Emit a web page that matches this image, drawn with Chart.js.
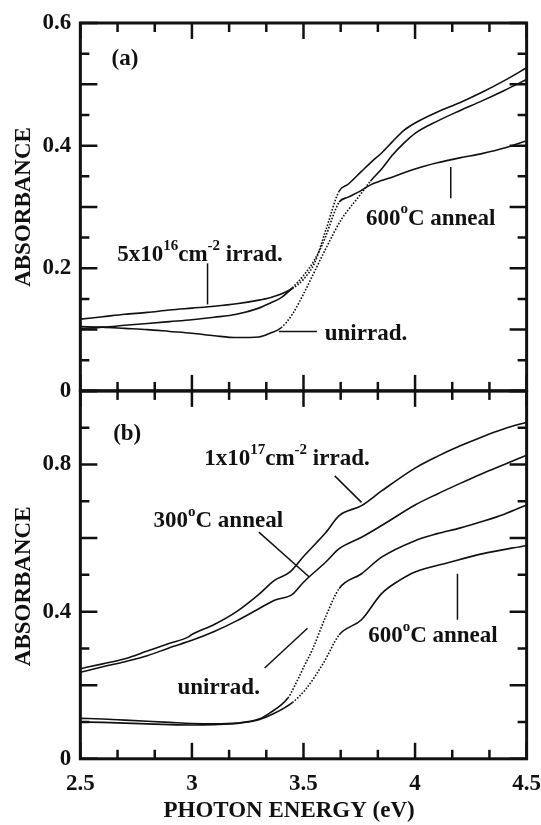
<!DOCTYPE html>
<html>
<head>
<meta charset="utf-8">
<script src="https://cdn.jsdelivr.net/npm/chart.js@4.4.1/dist/chart.umd.min.js"></script>
<style>
  html, body { margin: 0; padding: 0; background: #fff; }
  #absChart { display: block; }
</style>
</head>
<body>
<canvas id="absChart" width="541" height="825"></canvas>
<script>
// ---- panel (a) ----
const energyIrradA = [2.5, 2.6, 2.7, 2.8, 2.9, 3.0, 3.1, 3.2, 3.3, 3.35, 3.4, 3.45, 3.5, 3.55, 3.6, 3.66, 3.7, 3.76, 3.8, 3.85, 3.9, 3.95, 4.0, 4.1, 4.2, 4.3, 4.4, 4.5];
const absIrradA = [0.117, 0.121, 0.125, 0.128, 0.132, 0.135, 0.138, 0.142, 0.148, 0.152, 0.158, 0.167, 0.182, 0.209, 0.262, 0.326, 0.337, 0.358, 0.372, 0.388, 0.407, 0.425, 0.437, 0.455, 0.47, 0.487, 0.506, 0.527];

const energyUnirradA = [2.5, 2.6, 2.7, 2.8, 2.9, 3.0, 3.1, 3.2, 3.3, 3.35, 3.4, 3.45, 3.5, 3.55, 3.6, 3.67, 3.7, 3.75, 3.8, 3.85, 3.9, 3.95, 4.0, 4.1, 4.2, 4.3, 4.4, 4.5];
const absUnirradA = [0.105, 0.104, 0.102, 0.1, 0.097, 0.094, 0.09, 0.087, 0.088, 0.094, 0.103, 0.125, 0.158, 0.195, 0.232, 0.28, 0.295, 0.318, 0.342, 0.362, 0.385, 0.404, 0.42, 0.44, 0.457, 0.473, 0.49, 0.508];

const energyAnnealA = [2.5, 2.6, 2.7, 2.8, 2.9, 3.0, 3.1, 3.2, 3.3, 3.35, 3.4, 3.45, 3.5, 3.55, 3.6, 3.63, 3.66, 3.7, 3.75, 3.8, 3.85, 3.9, 4.0, 4.1, 4.2, 4.3, 4.4, 4.5];
const absAnnealA = [0.102, 0.104, 0.107, 0.11, 0.113, 0.116, 0.12, 0.125, 0.135, 0.143, 0.152, 0.168, 0.188, 0.214, 0.252, 0.283, 0.308, 0.316, 0.325, 0.336, 0.343, 0.349, 0.362, 0.372, 0.38, 0.387, 0.396, 0.408];

// ---- panel (b) ----
const energyIrradB = [2.5, 2.6, 2.7, 2.8, 2.9, 2.98, 3.0, 3.1, 3.2, 3.3, 3.37, 3.44, 3.5, 3.6, 3.66, 3.76, 3.85, 4.0, 4.1, 4.2, 4.3, 4.4, 4.5];
const absIrradB = [0.245, 0.258, 0.272, 0.293, 0.314, 0.33, 0.338, 0.365, 0.4, 0.447, 0.485, 0.508, 0.55, 0.615, 0.661, 0.688, 0.728, 0.79, 0.822, 0.85, 0.875, 0.897, 0.915];

const energyAnneal300B = [2.5, 2.6, 2.7, 2.8, 2.9, 3.0, 3.1, 3.2, 3.3, 3.37, 3.45, 3.5, 3.6, 3.66, 3.76, 3.85, 4.0, 4.1, 4.2, 4.3, 4.4, 4.5];
const absAnneal300B = [0.235, 0.25, 0.264, 0.28, 0.302, 0.322, 0.346, 0.375, 0.408, 0.431, 0.447, 0.48, 0.535, 0.571, 0.602, 0.634, 0.69, 0.72, 0.748, 0.775, 0.8, 0.825];

const energyUnirradB = [2.5, 2.6, 2.7, 2.8, 2.9, 3.0, 3.1, 3.2, 3.3, 3.35, 3.43, 3.47, 3.5, 3.54, 3.6, 3.66, 3.76, 3.85, 4.0, 4.1, 4.2, 4.3, 4.4, 4.5];
const absUnirradB = [0.11, 0.108, 0.105, 0.102, 0.099, 0.096, 0.095, 0.097, 0.108, 0.125, 0.165, 0.21, 0.248, 0.297, 0.387, 0.463, 0.503, 0.548, 0.593, 0.612, 0.627, 0.645, 0.665, 0.69];

const energyAnneal600B = [2.5, 2.6, 2.7, 2.8, 2.9, 3.0, 3.1, 3.2, 3.3, 3.36, 3.45, 3.51, 3.59, 3.66, 3.76, 3.85, 3.93, 4.0, 4.16, 4.3, 4.5];
const absAnneal600B = [0.1, 0.099, 0.097, 0.095, 0.093, 0.092, 0.093, 0.096, 0.106, 0.121, 0.153, 0.189, 0.261, 0.337, 0.378, 0.449, 0.485, 0.508, 0.535, 0.557, 0.58];

// axis labels
const xTitle = 'PHOTON ENERGY (eV)';
const yTitle = 'ABSORBANCE';

// text notes on the plot, placed in data units (energy, absorbance)
const notesA = [
  { parts: [['(a)']], e: 2.70, v: 0.541 },
  { parts: [['5x10'], ['16', true], ['cm'], ['-2', true], [' irrad.']], e: 3.036, v: 0.221 },
  { parts: [['unirrad.']], e: 3.78, v: 0.092 },
  { parts: [['600'], ['o', true], ['C anneal']], e: 4.07, v: 0.281 }
];
const leadersA = [
  [3.07, 0.208, 3.07, 0.141],
  [3.39, 0.097, 3.56, 0.097],
  [4.16, 0.365, 4.16, 0.314]
];
const notesB = [
  { parts: [['(b)']], e: 2.71, v: 0.883 },
  { parts: [['1x10'], ['17', true], ['cm'], ['-2', true], [' irrad.']], e: 3.426, v: 0.815 },
  { parts: [['300'], ['o', true], ['C anneal']], e: 3.118, v: 0.647 },
  { parts: [['unirrad.']], e: 3.12, v: 0.193 },
  { parts: [['600'], ['o', true], ['C anneal']], e: 4.08, v: 0.333 }
];
const leadersB = [
  [3.64, 0.769, 3.76, 0.697],
  [3.30, 0.616, 3.526, 0.494],
  [3.326, 0.247, 3.518, 0.355],
  [4.19, 0.503, 4.19, 0.378]
];

const INK = '#111';
const FONT = "'Liberation Serif', 'Times New Roman', serif";

function toPoints(xs, ys) {
  return xs.map((x, i) => ({ x: x, y: ys[i] }));
}

// dotted look on the steep part of some curves
function dashIn(range) {
  return ctx => (ctx.p0.parsed.x >= range[0] - 1e-9 && ctx.p1.parsed.x <= range[1] + 1e-9) ? [1.6, 1.6] : undefined;
}

function curve(xs, ys, axis, range) {
  const ds = {
    data: toPoints(xs, ys),
    yAxisID: axis,
    borderColor: INK,
    borderWidth: 1.6,
    pointRadius: 0,
    cubicInterpolationMode: 'monotone',
    fill: false
  };
  if (range) ds.segment = { borderDash: dashIn(range) };
  return ds;
}

function isMultiple(v, step) {
  const r = v / step;
  return Math.abs(r - Math.round(r)) < 1e-6;
}
function fmt(v) {
  return v === 0 ? '0' : String(Math.round(v * 10) / 10);
}

function drawNotes(ctx, notes, xs, ys) {
  const main = 'bold 23px ' + FONT;
  const sup = 'bold 15px ' + FONT;
  ctx.fillStyle = INK;
  ctx.textBaseline = 'middle';
  ctx.textAlign = 'left';
  notes.forEach(n => {
    let w = 0;
    n.parts.forEach(([t, s]) => { ctx.font = s ? sup : main; w += ctx.measureText(t).width; });
    let x = xs.getPixelForValue(n.e) - w / 2;
    const y = ys.getPixelForValue(n.v);
    n.parts.forEach(([t, s]) => {
      ctx.font = s ? sup : main;
      ctx.fillText(t, x, s ? y - 9 : y);
      x += ctx.measureText(t).width;
    });
  });
}

function drawLeaders(ctx, list, xs, ys) {
  ctx.strokeStyle = INK;
  ctx.lineWidth = 1.5;
  list.forEach(l => {
    ctx.beginPath();
    ctx.moveTo(xs.getPixelForValue(l[0]), ys.getPixelForValue(l[1]));
    ctx.lineTo(xs.getPixelForValue(l[2]), ys.getPixelForValue(l[3]));
    ctx.stroke();
  });
}

// frames with inward ticks, and the annotations
const framePlugin = {
  id: 'framePlugin',
  afterDatasetsDraw(chart) {
    const ctx = chart.ctx;
    const { x, ya, yb } = chart.scales;
    ctx.save();
    ctx.strokeStyle = INK;
    ctx.lineCap = 'butt';

    // ticks
    ctx.lineWidth = 2.5;
    const xVals = x.ticks.map(t => t.value);
    const xTicks = [];
    for (let i = 0; i < xVals.length; i++) {
      xTicks.push([xVals[i], true]);
      if (i < xVals.length - 1) {
        for (let k = 1; k < 3; k++) xTicks.push([xVals[i] + (xVals[i + 1] - xVals[i]) * k / 3, false]);
      }
    }
    const edges = [[ya.top, 1], [ya.bottom, -1], [yb.top, 1], [yb.bottom, -1]];
    xTicks.forEach(([v, major]) => {
      const px = x.getPixelForValue(v);
      const len = major ? 16 : 9;
      edges.forEach(([py, dir]) => {
        ctx.beginPath();
        ctx.moveTo(px, py);
        ctx.lineTo(px, py + dir * len);
        ctx.stroke();
      });
    });
    [[ya, 0.1], [yb, 0.2]].forEach(([s, majorStep]) => {
      s.ticks.forEach(t => {
        const py = s.getPixelForValue(t.value);
        const len = isMultiple(t.value, majorStep) ? 17 : 9;
        ctx.beginPath();
        ctx.moveTo(x.left, py);
        ctx.lineTo(x.left + len, py);
        ctx.moveTo(x.right, py);
        ctx.lineTo(x.right - len, py);
        ctx.stroke();
      });
    });

    // frames
    ctx.lineWidth = 3;
    [ya, yb].forEach(s => {
      ctx.strokeRect(x.left, s.top, x.right - x.left, s.bottom - s.top);
    });

    drawLeaders(ctx, leadersA, x, ya);
    drawLeaders(ctx, leadersB, x, yb);
    drawNotes(ctx, notesA, x, ya);
    drawNotes(ctx, notesB, x, yb);
    ctx.restore();
  }
};

const tickFont = { family: FONT, size: 23, weight: 'bold' };

function yScale(max, step, labelStep, title) {
  return {
    type: 'linear',
    position: 'left',
    stack: 'abs',
    stackWeight: 1,
    min: 0,
    max: max,
    // grid hidden; tickLength only keeps the labels off the axis
    grid: { display: false, drawTicks: true, tickLength: 9 },
    border: { display: false },
    ticks: {
      stepSize: step,
      autoSkip: false,
      padding: 0,
      color: INK,
      font: tickFont,
      callback: v => isMultiple(v, labelStep) ? fmt(v) : ''
    },
    title: {
      display: true,
      text: title,
      color: INK,
      font: tickFont,
      padding: { top: 0, bottom: 5 }
    }
  };
}

new Chart(document.getElementById('absChart'), {
  type: 'line',
  data: {
    datasets: [
      curve(energyIrradA, absIrradA, 'ya', [3.44, 3.67]),
      curve(energyUnirradA, absUnirradA, 'ya', [3.39, 3.8]),
      curve(energyAnnealA, absAnnealA, 'ya', [3.44, 3.67]),
      curve(energyIrradB, absIrradB, 'yb'),
      curve(energyAnneal300B, absAnneal300B, 'yb'),
      curve(energyUnirradB, absUnirradB, 'yb', [3.42, 3.67]),
      curve(energyAnneal600B, absAnneal600B, 'yb', [3.44, 3.67])
    ]
  },
  options: {
    responsive: false,
    devicePixelRatio: 1,
    animation: false,
    layout: { padding: { top: 23, left: 10, right: 0, bottom: 0 } },
    plugins: { legend: { display: false }, tooltip: { enabled: false } },
    scales: {
      x: {
        type: 'linear',
        position: 'bottom',
        min: 2.5,
        max: 4.5,
        grid: { display: false, drawTicks: true, tickLength: 11 },
        border: { display: false },
        ticks: {
          stepSize: 0.5,
          autoSkip: false,
          maxRotation: 0,
          padding: 0,
          color: INK,
          font: tickFont,
          callback: v => String(v)
        },
        title: {
          display: true,
          text: xTitle + '\u00a0\u00a0\u00a0\u00a0\u00a0',
          color: INK,
          font: tickFont,
          padding: { top: 0, bottom: 0 }
        }
      },
      // first one listed sits at the bottom of the stack
      yb: yScale(1.0, 0.1, 0.4, yTitle + '\u00a0\u00a0\u00a0\u00a0'),
      ya: yScale(0.6, 0.05, 0.2, yTitle)
    }
  },
  plugins: [framePlugin]
});
</script>
</body>
</html>
